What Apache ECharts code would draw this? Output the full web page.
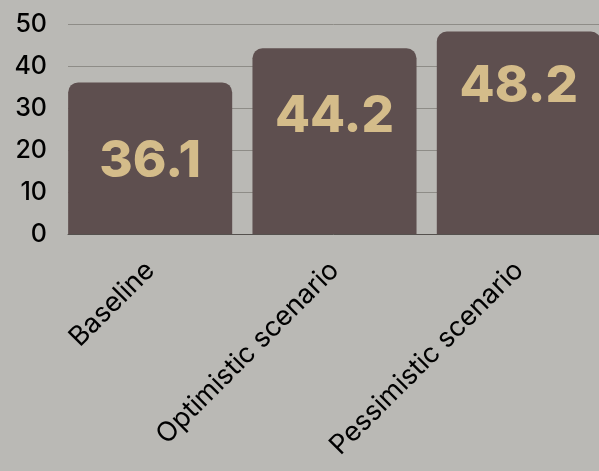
<!DOCTYPE html>
<html>
<head>
<meta charset="utf-8">
<script src="https://cdn.jsdelivr.net/npm/echarts@6/dist/echarts.min.js"></script>
<style>
html,body{margin:0;padding:0;background:#bab9b5;}
#chart{width:599px;height:471px;}
</style>
</head>
<body>
<div id="chart"></div>
<script>
const categories = ["Baseline", "Optimistic scenario", "Pessimistic scenario"];
const values = [36.1, 44.2, 48.2];
const yTicks = [0, 10, 20, 30, 40, 50];

const labelShift = [3, -25, -46];
const font = "Inter, 'Noto Sans', sans-serif";

const chart = echarts.init(document.getElementById('chart'), null, {renderer: 'canvas'});
chart.setOption({
  backgroundColor: '#bab9b5',
  animation: false,
  grid: [
    {left: 68, right: 0, top: 24, bottom: 237, containLabel: false, outerBoundsMode: 'none'},
    {left: 58, width: 553, top: 24, bottom: 237, containLabel: false, outerBoundsMode: 'none'}
  ],
  xAxis: [
    {gridIndex: 0, type: 'category', data: categories, axisLabel: {show: false}, axisTick: {show: false},
     axisLine: {show: true, lineStyle: {color: '#55514e', width: 1}}, splitLine: {show: false}},
    {gridIndex: 1, type: 'category', data: categories, axisTick: {show: false}, axisLine: {show: false},
     axisLabel: {rotate: 45, margin: 32, fontSize: 27, color: '#000', fontFamily: font, interval: 0}}
  ],
  yAxis: [
    {gridIndex: 0, type: 'value', min: yTicks[0], max: yTicks[yTicks.length-1], interval: 10,
     axisLine: {show: false}, axisTick: {show: false},
     axisLabel: {fontSize: 25, color: '#000', margin: 21, fontFamily: font, fontWeight: 500},
     splitLine: {show: true, lineStyle: {color: '#8e8c87', width: 1}}},
    {gridIndex: 1, type: 'value', min: 0, max: 50, show: false, splitLine: {show: false}}
  ],
  series: [{
    type: 'bar',
    xAxisIndex: 1, yAxisIndex: 1,
    barCategoryGap: '11%',
    data: values.map((v, i) => ({
      value: v,
      label: {offset: [0, labelShift[i]]}
    })),
    itemStyle: {color: '#5e4f4f', borderRadius: [10, 10, 0, 0]},
    label: {show: true, position: 'inside', fontSize: 51, fontWeight: 800, color: '#d4bc8a', fontFamily: font}
  }]
});
</script>
</body>
</html>
